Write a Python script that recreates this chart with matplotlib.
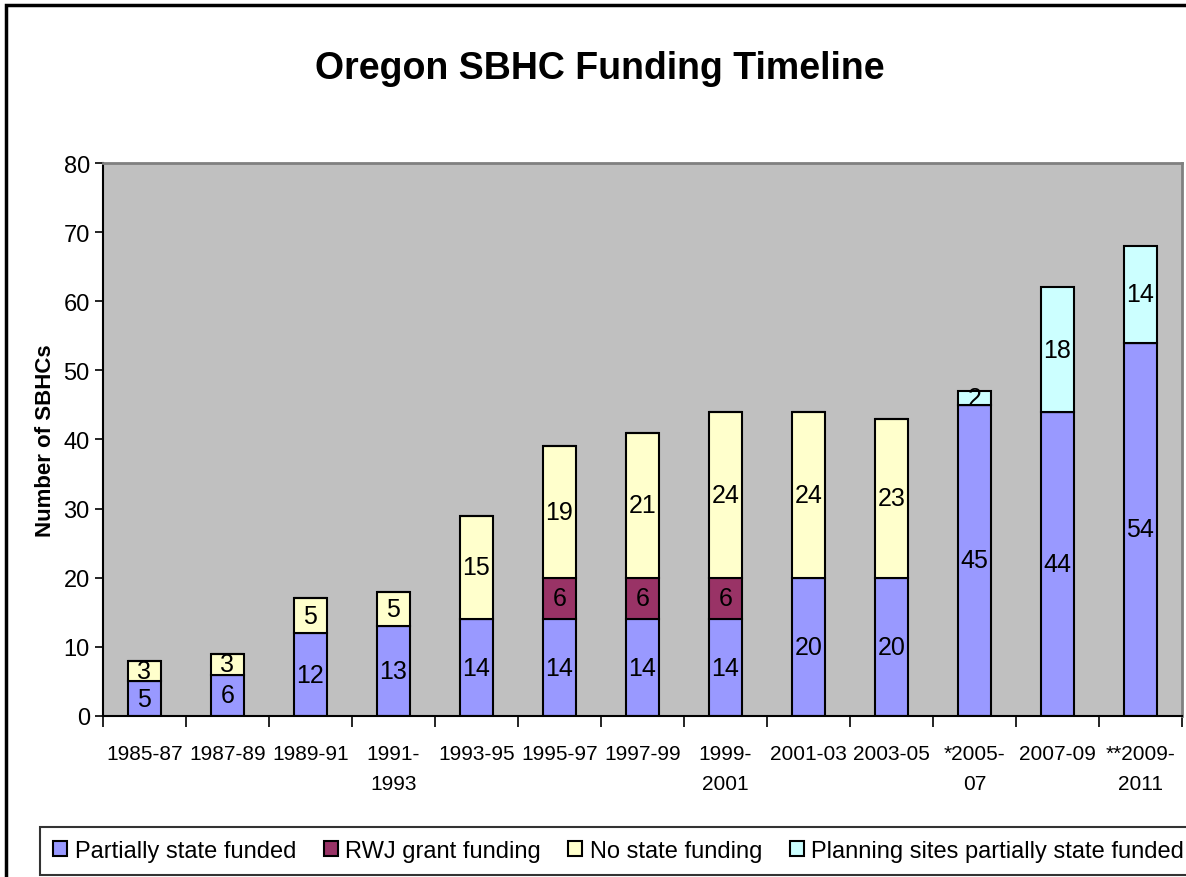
import matplotlib.pyplot as plt
import numpy as np

plt.rcParams['font.family'] = ['Liberation Sans', 'DejaVu Sans']

periods = ["1985-87", "1987-89", "1989-91", "1991-\n1993", "1993-95", "1995-97", "1997-99",
           "1999-\n2001", "2001-03", "2003-05", "*2005-\n07", "2007-09", "**2009-\n2011"]
partial = [5, 6, 12, 13, 14, 14, 14, 14, 20, 20, 45, 44, 54]
rwj = [0, 0, 0, 0, 0, 6, 6, 6, 0, 0, 0, 0, 0]
no_state = [3, 3, 5, 5, 15, 19, 21, 24, 24, 23, 0, 0, 0]
planning = [0, 0, 0, 0, 0, 0, 0, 0, 0, 0, 2, 18, 14]

series = [("Partially state funded", partial, "#9999FF"),
          ("RWJ grant funding", rwj, "#993366"),
          ("No state funding", no_state, "#FFFFCC"),
          ("Planning sites partially state funded", planning, "#CCFFFF")]

fig = plt.figure(figsize=(11.86, 8.78), dpi=100)
ax = fig.add_axes([0.0868, 0.1834, 0.9098, 0.6298])
ax.set_facecolor("#C0C0C0")

x = np.arange(len(periods))
bottom = np.zeros(len(periods))
handles = []
for name, vals, col in series:
    vals = np.array(vals, dtype=float)
    bars = ax.bar(x, vals, 0.4, bottom=bottom, color=col, edgecolor="black",
                  linewidth=1.5, label=name)
    handles.append(bars)
    # value labels in the middle of each segment
    for xi, b, v in zip(x, bottom, vals):
        if v > 0:
            ax.text(xi, b + v / 2, f"{int(v)}", ha="center", va="center",
                    fontsize=18, color="black")
    bottom += vals

ax.set_xlim(-0.5, len(periods) - 0.5)
ax.set_ylim(0, 80)
ax.set_yticks(range(0, 81, 10))
ax.tick_params(axis="y", labelsize=17, length=6, width=1.2, direction="out")
# ticks between categories, labels centred under bars
ax.set_xticks(np.arange(-0.5, len(periods), 1))
ax.set_xticklabels([])
ax.tick_params(axis="x", length=8, width=1.2, direction="out")
for xi, lab in zip(x, periods):
    ax.text(xi, -4.0, lab, ha="center", va="top", fontsize=15,
            linespacing=1.75, transform=ax.transData)

for s in ["top", "right"]:
    ax.spines[s].set_color("#808080")
    ax.spines[s].set_linewidth(2)
ax.spines["left"].set_linewidth(1.5)
ax.spines["bottom"].set_linewidth(1.5)

ax.set_ylabel("Number of SBHCs", fontsize=16, fontweight="bold", labelpad=5)

fig.text(0.506, 0.921, "Oregon SBHC Funding Timeline", ha="center", va="center",
         fontsize=27, fontweight="bold")

leg = fig.legend(handles=handles, loc="lower left", bbox_to_anchor=(0.034, 0.002, 0.975, 0.06),
                 mode="expand", ncol=4, fontsize=17, frameon=True, fancybox=False,
                 edgecolor="black", handlelength=0.6, handleheight=0.6, handletextpad=0.3,
                 columnspacing=0.6, borderaxespad=0, borderpad=0.55)
leg.get_frame().set_linewidth(1.5)

# outer border
fig.patches.append(plt.Rectangle((0.005, -0.01), 1.1, 1.003, transform=fig.transFigure,
                                 fill=False, edgecolor="black", linewidth=2.5))

fig.savefig("out.png", dpi=100)
